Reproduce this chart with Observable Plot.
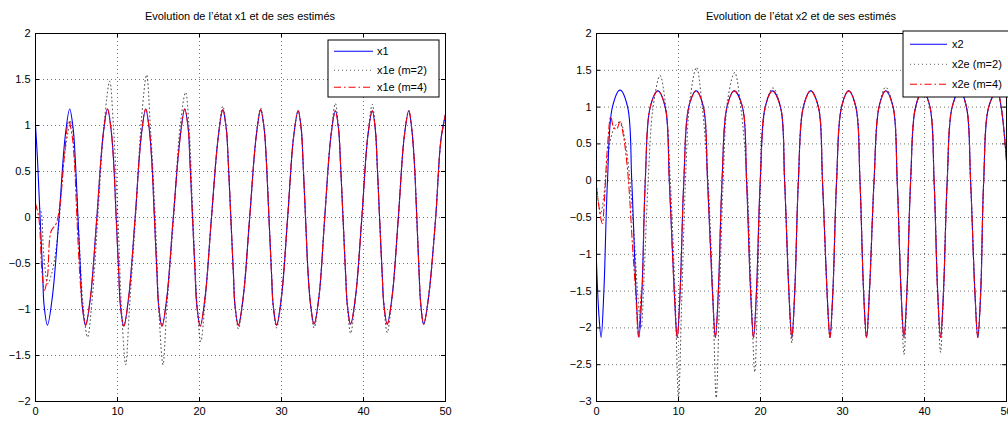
<!DOCTYPE html>
<html><head><meta charset="utf-8">
<script src="https://cdn.jsdelivr.net/npm/d3@7"></script>
<script src="https://cdn.jsdelivr.net/npm/@observablehq/plot@0.6"></script>
<style>
body{margin:0;background:#fff;overflow:hidden}
#wrap{position:relative;width:1008px;height:421px;overflow:hidden}
#wrap svg{position:absolute;top:0;overflow:visible}
</style></head><body><div id="wrap"></div>
<script>
// ---- tick values ----
const xTicks = [0, 10, 20, 30, 40, 50];
const y1Ticks = [-2, -1.5, -1, -0.5, 0, 0.5, 1, 1.5, 2];
const y2Ticks = [-3, -2.5, -2, -1.5, -1, -0.5, 0, 0.5, 1, 1.5, 2];

// ---- titles / legend labels ----
const title1 = "Evolution de l\u2019état x1 et de ses estimés";
const title2 = "Evolution de l\u2019état x2 et de ses estimés";
const legend1 = ["x1", "x1e (m=2)", "x1e (m=4)"];
const legend2 = ["x2", "x2e (m=2)", "x2e (m=4)"];

// ---- x1 (true state), [t, value] ----
const x1 = [
[0,1.0],[0.25,0.62],[0.56,0],[0.88,-0.62],[1.04,-0.95],[1.46,-1.17],
[2.06,-0.86],[2.87,0],[3.62,0.88],[4.17,1.18],
[4.59,0.97],[4.86,0.62],[5.18,0],[5.50,-0.62],[5.69,-0.95],[6.11,-1.17],
[6.71,-0.86],[7.48,0],[8.23,0.88],[8.78,1.18],
[9.20,0.97],[9.52,0.62],[9.84,0],[10.16,-0.62],[10.35,-0.95],[10.77,-1.18],
[11.37,-0.86],[12.15,0],[12.89,0.88],[13.44,1.18],
[13.86,0.97],[14.18,0.62],[14.50,0],[14.82,-0.62],[15.01,-0.95],[15.43,-1.18],
[16.03,-0.86],[16.80,0],[17.65,0.88],[18.20,1.18],
[18.62,0.97],[18.83,0.62],[19.15,0],[19.47,-0.62],[19.67,-0.95],[20.09,-1.18],
[20.69,-0.86],[21.46,0],[22.29,0.88],[22.84,1.17],
[23.26,0.97],[23.50,0.62],[23.82,0],[24.14,-0.62],[24.32,-0.95],[24.74,-1.17],
[25.34,-0.86],[26.12,0],[26.91,0.88],[27.46,1.17],
[27.88,0.97],[28.15,0.62],[28.47,0],[28.79,-0.62],[28.98,-0.95],[29.40,-1.17],
[30.00,-0.86],[30.75,0],[31.48,0.88],[32.03,1.16],
[32.42,0.95],[32.63,0.6],[32.93,0],[33.25,-0.62],[33.55,-0.95],[33.97,-1.16],
[34.57,-0.86],[35.27,0],[36.02,0.88],[36.57,1.16],
[36.97,0.95],[37.19,0.6],[37.50,0],[37.82,-0.62],[38.03,-0.95],[38.43,-1.16],
[39.03,-0.86],[39.80,0],[40.52,0.88],[41.07,1.16],
[41.45,0.95],[41.66,0.6],[41.96,0],[42.28,-0.62],[42.49,-0.95],[42.89,-1.16],
[43.49,-0.86],[44.25,0],[44.97,0.88],[45.52,1.16],
[45.90,0.95],[46.20,0.6],[46.50,0],[46.78,-0.6],[46.97,-0.93],[47.34,-1.16],
[47.94,-0.86],[48.80,0],[49.45,0.85],[50,1.12]
];
// x1 estimate m=4 during the transient (afterwards it lies on x1)
const x1m4Start = [
[0,0.15],[0.4,0.0],[0.8,-0.6],[1.1,-0.79],[1.45,-0.65],[1.9,-0.15],[2.5,-0.07],
[3.0,0.15],[3.5,0.65],[4.05,1.05],[4.45,0.9],[4.75,0.6],[5.05,0],[5.4,-0.62],
[5.7,-0.95],[6.11,-1.17]
];
// x1 estimate m=2 during the transient
const x1m2Start = [
[0,0.1],[0.5,0.1],[1.0,-0.4],[1.5,-0.72],[2.0,-0.6],[2.5,-0.35],[2.9,-0.02],
[3.5,0.65],[4.35,1.05],[4.8,0.6],[5.3,-0.2],[5.8,-0.95],[6.35,-1.3],[6.9,-0.9],
[7.6,0],[8.35,1.0],[9.05,1.48],[9.5,1.0],[10.05,0],[10.55,-1.1],[11.0,-1.6],
[11.45,-1.0],[12.2,0],[12.95,1.1],[13.55,1.55],[14.0,1.0],[14.6,0],[15.1,-1.1],
[15.55,-1.6],[16.0,-1.0],[16.85,0],[17.65,1.0],[18.3,1.36],[18.75,0.95],[19.2,0],
[19.75,-1.0],[20.15,-1.35],[20.7,-0.9],[21.46,0]
];
// small overshoots of the m=2 estimate at later extrema of x1
const x1m2Peaks = [[22.84,1.21],[24.74,-1.21],[27.46,1.19],[29.40,-1.2],[33.97,-1.2],
[36.57,1.24],[38.43,-1.26],[41.07,1.23],[42.89,-1.25]];

// ---- x2 (true state) ----
const x2 = [
[0,-1.1],[0.28,-1.8],[0.56,-2.13],[0.9,-1.5],[1.34,0],[1.94,1.0],[2.87,1.23],[3.8,1.0],[4.3,0],
[4.82,-1.5],[5.18,-2.13],[5.54,-1.5],[5.95,0],[6.55,1.0],[7.48,1.22],[8.38,1.0],[8.88,0],
[9.48,-1.5],[9.84,-2.13],[10.2,-1.5],[10.65,0],[11.25,1.0],[12.15,1.22],[13.04,1.0],[13.54,0],
[14.14,-1.5],[14.5,-2.13],[14.86,-1.5],[15.31,0],[15.91,1.0],[16.8,1.22],[17.8,1.0],[18.3,0],
[18.79,-1.5],[19.15,-2.13],[19.51,-1.5],[19.97,0],[20.57,1.0],[21.46,1.22],[22.44,1.0],[22.94,0],
[23.46,-1.5],[23.82,-2.13],[24.18,-1.5],[24.62,0],[25.22,1.0],[26.12,1.22],[27.06,1.0],[27.56,0],
[28.11,-1.5],[28.47,-2.13],[28.83,-1.5],[29.28,0],[29.88,1.0],[30.75,1.22],[31.63,1.0],[32.13,0],
[32.57,-1.5],[32.93,-2.13],[33.29,-1.5],[33.85,0],[34.45,1.0],[35.27,1.22],[36.17,1.0],[36.67,0],
[37.14,-1.5],[37.5,-2.13],[37.86,-1.5],[38.31,0],[38.91,1.0],[39.8,1.22],[40.67,1.0],[41.17,0],
[41.6,-1.5],[41.96,-2.13],[42.32,-1.5],[42.77,0],[43.37,1.0],[44.3,1.22],[45.12,1.0],[45.62,0],
[46.14,-1.5],[46.5,-2.13],[46.86,-1.5],[47.22,0],[47.82,1.0],[48.85,1.22],[49.35,1.0],[50,0.27]
];
const x2m4Start = [
[0,-0.1],[0.3,-0.35],[0.7,-0.58],[1.0,-0.2],[1.3,0.4],[1.74,0.87],[2.1,0.72],[2.45,0.7],
[2.87,0.8],[3.3,0.6],[3.6,0.35],[3.9,0],[4.4,-0.9],[4.8,-1.56],[5.12,-2.12],[5.45,-1.55]
];
const x2m2Start = [
[0,-0.05],[0.5,-0.45],[0.9,-0.2],[1.3,0.25],[1.8,0.6],[2.3,0.75],[2.9,0.8],[3.4,0.6],
[3.9,0.2],[4.5,-0.6],[5.0,-1.5],[5.45,-2.0],[5.8,-1.3],[6.3,0],[6.9,1.0],[7.75,1.43],
[8.45,1.0],[9.0,0],[9.6,-1.6],[10.0,-2.95],[10.4,-1.6],[10.85,0],[11.4,1.1],[12.2,1.54],
[12.9,1.0],[13.6,0],[14.2,-1.6],[14.6,-2.95],[15.0,-1.6],[15.45,0],[16.0,1.1],[16.85,1.47],
[17.6,1.0],[18.35,0],[18.9,-1.6],[19.3,-2.6],[19.65,-1.5],[20.0,0],[20.6,1.0],[21.5,1.26],
[22.45,1.0],[22.94,0]
];
const x2m2Peaks = [[23.82,-2.2],[35.27,1.27],[37.5,-2.36],[41.96,-2.33]];

// ---- assemble estimate series from the read values ----
function joinSeries(start, base, peaks) {
  const tEnd = start[start.length - 1][0];
  const rest = base.filter(p => p[0] > tEnd).map(p => {
    const o = peaks.find(q => q[0] === p[0]);
    return o ? [p[0], o[1]] : p;
  });
  return start.concat(rest);
}
const x1m4 = joinSeries(x1m4Start, x1, []);
const x1m2 = joinSeries(x1m2Start, x1, x1m2Peaks);
const x2m4 = joinSeries(x2m4Start, x2, []);
const x2m2 = joinSeries(x2m2Start, x2, x2m2Peaks);

const FONT = "'Liberation Sans', Arial, Helvetica, sans-serif";
const DOT = "0.8,3.2", DASHDOT = "7,3,1.5,3";
const fmt = d3.format("~g");

function panel({left, width, mLeft, mRight, yDomain, yTicks, blue, black, red, title, labels, leg}) {
  const H = 421, mTop = 33, mBottom = 20;
  const fH = H - mTop - mBottom, fW = width - mLeft - mRight;
  const acc = {x: d => d[0], y: d => d[1], curve: "catmull-rom", clip: true};
  const svg = Plot.plot({
    width, height: H, marginLeft: mLeft, marginRight: mRight, marginTop: mTop, marginBottom: mBottom,
    style: {fontFamily: FONT, fontSize: "11px", background: "transparent", color: "#000", overflow: "visible"},
    x: {domain: [0, 50], ticks: xTicks, tickSize: 0, tickPadding: 6, tickFormat: fmt, label: null},
    y: {domain: yDomain, ticks: yTicks, tickSize: 0, tickPadding: 5, tickFormat: fmt, label: null},
    marks: [
      Plot.ruleX(xTicks, {stroke: "#000", strokeOpacity: 0.55, strokeDasharray: "1,3"}),
      Plot.ruleY(yTicks, {stroke: "#000", strokeOpacity: 0.55, strokeDasharray: "1,3"}),
      Plot.ruleX(xTicks, {insetTop: fH - 4, stroke: "#000"}),
      Plot.ruleX(xTicks, {insetBottom: fH - 4, stroke: "#000"}),
      Plot.ruleY(yTicks, {insetRight: fW - 4, stroke: "#000"}),
      Plot.ruleY(yTicks, {insetLeft: fW - 4, stroke: "#000"}),
      Plot.line(black, {...acc, stroke: "#000000", strokeWidth: 0.8, strokeDasharray: DOT}),
      Plot.line(blue, {...acc, stroke: "#0000ff", strokeWidth: 1.1}),
      Plot.line(red, {...acc, stroke: "#ff0000", strokeWidth: 1.1, strokeDasharray: DASHDOT}),
      Plot.frame({stroke: "#000"})
    ]
  });
  svg.style.left = left + "px";
  const s = d3.select(svg);
  s.append("text").attr("x", mLeft + fW / 2).attr("y", 20).attr("text-anchor", "middle")
    .attr("font-family", FONT).attr("font-size", 11).attr("fill", "#000").text(title);
  const g = s.append("g").attr("font-family", FONT).attr("font-size", 11).attr("text-anchor", "start");
  g.append("rect").attr("x", leg.x).attr("y", leg.y).attr("width", leg.w).attr("height", leg.h)
    .attr("fill", "#fff").attr("stroke", "#000");
  const styles = [["#0000ff", "none", 1.1], ["#000000", DOT, 0.8], ["#ff0000", DASHDOT, 1.1]];
  labels.forEach((lab, i) => {
    const yy = leg.rows[i];
    g.append("line").attr("x1", leg.lx1).attr("x2", leg.lx2).attr("y1", yy).attr("y2", yy)
      .style("stroke", styles[i][0]).style("stroke-width", styles[i][2])
      .style("stroke-dasharray", styles[i][1]).style("fill", "none");
    g.append("text").attr("x", leg.tx).attr("y", yy).attr("dy", "0.35em")
      .attr("text-anchor", "start").attr("fill", "#000").text(lab);
  });
  document.getElementById("wrap").appendChild(svg);
}

panel({left: 0, width: 460, mLeft: 35, mRight: 15, yDomain: [-2, 2], yTicks: y1Ticks,
  blue: x1, black: x1m2, red: x1m4, title: title1, labels: legend1,
  leg: {x: 328, y: 40, w: 111, h: 57, rows: [51.3, 70.3, 87.3], lx1: 334, lx2: 373, tx: 377}});
panel({left: 500, width: 508, mLeft: 96, mRight: 2, yDomain: [-3, 2], yTicks: y2Ticks,
  blue: x2, black: x2m2, red: x2m4, title: title2, labels: legend2,
  leg: {x: 403, y: 31, w: 125, h: 66, rows: [44.3, 64.3, 84.3], lx1: 410, lx2: 447, tx: 452}});
</script></body></html>
